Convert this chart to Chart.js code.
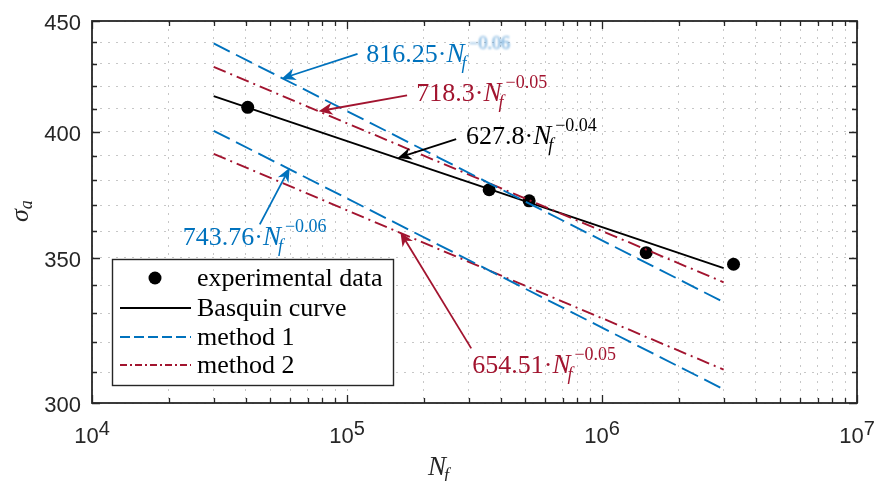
<!DOCTYPE html>
<html>
<head>
<meta charset="utf-8">
<script src="https://cdn.jsdelivr.net/npm/chart.js@4.4.1/dist/chart.umd.min.js"></script>
<style>
  html, body { margin: 0; padding: 0; background: #fff; }
  canvas { display: block; }
</style>
</head>
<body>
<canvas id="basquinChart" width="874" height="481"></canvas>
<script>
// experimental points
const expN = [4.08e4, 3.61e5, 5.18e5, 1.49e6, 3.28e6];
const expS = [410.6, 376.2, 371.8, 351.9, 347.6];

// fitted curves, straight in log-log, so two ends each
const fitN = [3e4, 3e6];
const basquinS = [415.5, 346.2];
const method1UpperS = [439.4, 333.9];
const method1LowerS = [400.5, 304.4];
const method2UpperS = [428.6, 341.0];
const method2LowerS = [390.8, 310.8];

// axes
const xMajor = [1e4, 1e5, 1e6, 1e7];
const xExp = ['4', '5', '6', '7'];
const yMajor = [300, 350, 400, 450];
const yMinor = [310, 320, 330, 340, 360, 370, 380, 390, 410, 420, 430, 440];

const legendLabels = ['experimental data', 'Basquin curve', 'method 1', 'method 2'];

const BLUE = '#0072BD';
const RED = '#A2142F';
const AXIS = '#262626';

// annotation: coefficient, exponent, text anchor, arrow tail, arrow head (data coords)
const notes = [
  { coef: '816.25', exp: '0.06', color: BLUE, blur: true,  text: [1.19e5, 431.0], tail: [1.10e5, 434.6], head: [5.54e4, 423.3] },
  { coef: '718.3',  exp: '0.05', color: RED,  blur: false, text: [1.87e5, 413.2], tail: [1.72e5, 415.8], head: [7.74e4, 408.9] },
  { coef: '627.8',  exp: '0.04', color: '#000', blur: false, text: [2.93e5, 394.9], tail: [2.68e5, 397.0], head: [1.58e5, 389.1] },
  { coef: '743.76', exp: '0.06', color: BLUE, blur: false, text: [2.27e4, 354.6], tail: [4.55e4, 362.6], head: [5.96e4, 385.1] },
  { coef: '654.51', exp: '0.05', color: RED,  blur: false, text: [3.10e5, 309.6], tail: [3.07e5, 317.9], head: [1.62e5, 359.6] }
];

const xMinor = [];
for (let d = 0; d < 3; d++) {
  for (let m = 2; m <= 9; m++) xMinor.push(m * xMajor[d]);
}

function pts(xs, ys) {
  return xs.map((x, i) => ({ x: x, y: ys[i] }));
}

function lineSet(label, ys, color, dash) {
  return {
    label: label,
    data: pts(fitN, ys),
    showLine: true,
    borderColor: color,
    borderWidth: 1.9,
    borderDash: dash,
    pointRadius: 0,
    fill: false
  };
}

function drawArrow(ctx, x1, y1, x2, y2, color) {
  const ang = Math.atan2(y2 - y1, x2 - x1);
  const len = 14, half = 6;
  ctx.save();
  ctx.strokeStyle = color;
  ctx.fillStyle = color;
  ctx.lineWidth = 1.8;
  ctx.beginPath();
  ctx.moveTo(x1, y1);
  ctx.lineTo(x2 - Math.cos(ang) * len * 0.6, y2 - Math.sin(ang) * len * 0.6);
  ctx.stroke();
  ctx.translate(x2, y2);
  ctx.rotate(ang);
  ctx.beginPath();
  ctx.moveTo(0, 0);
  ctx.lineTo(-len, -half);
  ctx.lineTo(-len * 0.7, 0);
  ctx.lineTo(-len, half);
  ctx.closePath();
  ctx.fill();
  ctx.restore();
}

function drawFormula(ctx, x, y, n) {
  ctx.save();
  ctx.textBaseline = 'alphabetic';
  ctx.textAlign = 'left';
  ctx.fillStyle = n.color;
  ctx.font = '26px "Liberation Serif"';
  const head = n.coef + '\u00b7';
  ctx.fillText(head, x, y);
  let cx = x + ctx.measureText(head).width;
  ctx.font = 'italic 27px "Liberation Serif"';
  ctx.fillText('N', cx, y);
  cx += ctx.measureText('N').width;
  ctx.font = 'italic 18px "Liberation Serif"';
  ctx.fillText('f', cx - 3, y + 7);
  ctx.font = '18px "Liberation Serif"';
  if (n.blur) {
    ctx.filter = 'blur(1.2px)';
    ctx.fillStyle = '#5b9fd6';
  }
  ctx.fillText('\u2212' + n.exp, cx + 4, y - 13);
  ctx.restore();
}

const frame = {
  id: 'frame',
  afterDatasetsDraw(chart) {
    const ctx = chart.ctx;
    const xs = chart.scales.x, ys = chart.scales.y;
    const a = chart.chartArea;
    ctx.save();

    // inward ticks on all four sides
    ctx.strokeStyle = AXIS;
    ctx.lineWidth = 1.3;
    ctx.beginPath();
    xMajor.concat(xMinor).forEach(v => {
      const px = Math.round(xs.getPixelForValue(v)) + 0.5;
      const l = xMajor.includes(v) ? 8 : 5;
      ctx.moveTo(px, a.bottom); ctx.lineTo(px, a.bottom - l);
      ctx.moveTo(px, a.top); ctx.lineTo(px, a.top + l);
    });
    yMajor.concat(yMinor).forEach(v => {
      const py = Math.round(ys.getPixelForValue(v)) + 0.5;
      const l = yMajor.includes(v) ? 8 : 5;
      ctx.moveTo(a.left, py); ctx.lineTo(a.left + l, py);
      ctx.moveTo(a.right, py); ctx.lineTo(a.right - l, py);
    });
    ctx.stroke();

    // box
    ctx.lineWidth = 1.8;
    ctx.strokeRect(a.left, a.top, a.right - a.left, a.bottom - a.top);

    // tick labels
    ctx.fillStyle = AXIS;
    ctx.font = '22px "Liberation Sans"';
    ctx.textAlign = 'right';
    ctx.textBaseline = 'middle';
    yMajor.forEach(v => {
      ctx.fillText(String(v), a.left - 11, ys.getPixelForValue(v) + 3);
    });
    ctx.textBaseline = 'alphabetic';
    ctx.textAlign = 'left';
    xMajor.forEach((v, i) => {
      const px = xs.getPixelForValue(v);
      ctx.font = '22px "Liberation Sans"';
      const w10 = ctx.measureText('10').width;
      ctx.font = '20px "Liberation Sans"';
      const we = ctx.measureText(xExp[i]).width;
      const x0 = px - (w10 + we) / 2;
      ctx.font = '22px "Liberation Sans"';
      ctx.fillText('10', x0, a.bottom + 40);
      ctx.font = '20px "Liberation Sans"';
      ctx.fillText(xExp[i], x0 + w10, a.bottom + 32);
    });

    // axis titles
    ctx.fillStyle = AXIS;
    ctx.font = 'italic 27px "Liberation Serif"';
    ctx.fillText('N', 428, 475);
    const wN = ctx.measureText('N').width;
    ctx.font = 'italic 18px "Liberation Serif"';
    ctx.fillText('f', 428 + wN - 2, 481);

    ctx.save();
    ctx.translate(28, 222);
    ctx.rotate(-Math.PI / 2);
    ctx.font = 'italic 26px "Liberation Serif"';
    ctx.fillText('\u03c3', 0, 0);
    const ws = ctx.measureText('\u03c3').width;
    ctx.font = 'italic 18px "Liberation Serif"';
    ctx.fillText('a', ws, 4);
    ctx.restore();

    // annotations
    notes.forEach(n => {
      drawArrow(ctx,
        xs.getPixelForValue(n.tail[0]), ys.getPixelForValue(n.tail[1]),
        xs.getPixelForValue(n.head[0]), ys.getPixelForValue(n.head[1]), n.color);
      drawFormula(ctx, xs.getPixelForValue(n.text[0]), ys.getPixelForValue(n.text[1]), n);
    });

    // legend
    const lx = 112.5, ly = 259.5, lw = 281, lh = 126;
    ctx.fillStyle = '#fff';
    ctx.fillRect(lx, ly, lw, lh);
    ctx.strokeStyle = AXIS;
    ctx.lineWidth = 1.4;
    ctx.setLineDash([]);
    ctx.strokeRect(lx, ly, lw, lh);
    const rows = [278, 308, 337, 365];
    const styles = [null, { c: '#000', d: [] }, { c: BLUE, d: [10, 4] }, { c: RED, d: [7, 3, 2, 3] }];
    rows.forEach((ry, i) => {
      if (i === 0) {
        ctx.fillStyle = '#000';
        ctx.beginPath();
        ctx.arc(155, ry, 6.5, 0, Math.PI * 2);
        ctx.fill();
      } else {
        ctx.strokeStyle = styles[i].c;
        ctx.lineWidth = 1.9;
        ctx.setLineDash(styles[i].d);
        ctx.beginPath();
        ctx.moveTo(120, ry);
        ctx.lineTo(191, ry);
        ctx.stroke();
        ctx.setLineDash([]);
      }
      ctx.fillStyle = '#000';
      ctx.font = '26px "Liberation Serif"';
      ctx.textBaseline = 'alphabetic';
      ctx.fillText(legendLabels[i], 197, ry + 8);
    });
    ctx.restore();
  }
};

const ctx = document.getElementById('basquinChart');

new Chart(ctx, {
  type: 'scatter',
  data: {
    datasets: [
      lineSet('method 1', method1UpperS, BLUE, [18, 7]),
      lineSet('method 1 lower', method1LowerS, BLUE, [18, 7]),
      lineSet('method 2', method2UpperS, RED, [13, 5, 2, 5]),
      lineSet('method 2 lower', method2LowerS, RED, [13, 5, 2, 5]),
      lineSet('Basquin curve', basquinS, '#000', []),
      {
        label: 'experimental data',
        data: pts(expN, expS),
        pointRadius: 6.5,
        pointBackgroundColor: '#000',
        pointBorderWidth: 0,
        showLine: false
      }
    ]
  },
  options: {
    responsive: false,
    animation: false,
    layout: { padding: { left: 92, right: 17, top: 21, bottom: 78 } },
    plugins: { legend: { display: false }, tooltip: { enabled: false } },
    scales: {
      x: {
        type: 'logarithmic',
        min: 1e4,
        max: 1e7,
        afterBuildTicks: s => { s.ticks = xMajor.concat(xMinor).map(v => ({ value: v })); },
        ticks: { display: false },
        grid: { color: 'rgba(0,0,0,0.22)', lineWidth: 1, drawTicks: false },
        border: { display: false, dash: [2, 6] }
      },
      y: {
        type: 'logarithmic',
        min: 300,
        max: 450,
        afterBuildTicks: s => { s.ticks = yMajor.concat(yMinor).map(v => ({ value: v })); },
        ticks: { display: false },
        grid: { color: 'rgba(0,0,0,0.22)', lineWidth: 1, drawTicks: false },
        border: { display: false, dash: [2, 6] }
      }
    }
  },
  plugins: [frame]
});
</script>
</body>
</html>
